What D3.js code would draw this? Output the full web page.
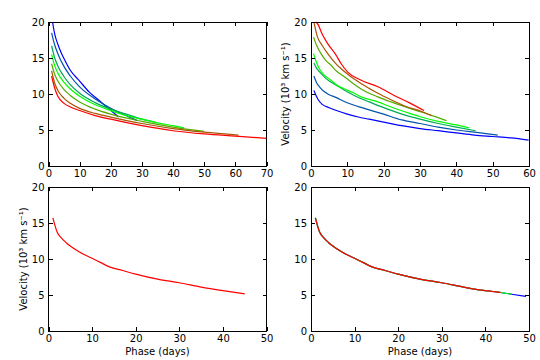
<!DOCTYPE html>
<html><head><meta charset="utf-8">
<script src="https://cdn.jsdelivr.net/npm/d3@7"></script>
<style>
body{margin:0;background:#fff;}
svg{display:block;font-family:"DejaVu Sans",sans-serif;}
</style></head>
<body><svg id="c" width="540" height="360"></svg>
<script>
// ---- data ----
const seriesColors = ["#0000ff","#0055aa","#00aa55","#00ff00","#55aa00","#aa5500","#ff0000"];

// top-left panel (blue -> red)
const tlPhase = [
  [1.3,2,3,4,5,7,10,13,16,19,22.5],
  [1,2,3,5,7,10,15,20,25,28.5],
  [1,2,3,5,7,10,15,20,25,30,35],
  [1,2,3,5,7,10,15,20,25,30,35,40,43.5],
  [1,2,3,5,7,10,15,20,30,40,50],
  [1,2,3,5,7,10,15,20,30,40,50,61],
  [1,2,3,5,7,10,15,20,30,40,50,60,70]
];
const tlVel = [
  [20,18.3,16.9,15.8,14.9,13.3,11.8,10.3,9.2,8.1,6.8],
  [18.5,16.8,15.6,13.8,12.5,11.0,9.3,8.0,7.0,6.3],
  [16.7,15.0,13.9,12.4,11.3,10.1,8.8,7.9,7.2,6.5,6.0],
  [15.5,13.9,12.9,11.6,10.7,9.7,8.5,7.7,7.0,6.5,6.0,5.6,5.3],
  [14.2,12.7,11.8,10.6,9.8,8.9,7.9,7.2,6.2,5.4,4.8],
  [13.2,11.5,10.5,9.4,8.7,8.0,7.3,6.8,5.9,5.2,4.7,4.3],
  [12.5,10.8,9.7,8.7,8.2,7.7,7.0,6.5,5.6,4.9,4.45,4.15,3.85]
];

// top-right panel (blue -> red)
const trPhase = [
  [0.8,1.2,2,3,5,7,10,13,16,20,25,30,35,40,45,50,55,59.9],
  [0.8,1.5,2.5,4,5,7,9,11.5,14,16,20,25,30,35,40,45,51.4],
  [0.8,1.5,2.5,4,5,7,9,11.5,14,16,20,25,30,35,40,45.3],
  [0.7,1.5,2.3,3.5,5.5,7,9.2,11.5,13.8,18.4,22,26,30.3,35,40,43.5],
  [0.7,1.5,2.75,4,5.5,7,9.2,11.5,13.8,18.4,22,26,30.3,34,37.3],
  [0.8,1.8,3,4.6,6.5,8.3,11,14,18.4,22,26,30.3,33.2],
  [1.4,2,3,4.6,6.9,8.3,10.1,13.8,18.4,22.9,27,31.1]
];
const trVel = [
  [10.5,10.0,9.2,8.6,8.1,7.7,7.2,6.8,6.5,6.1,5.6,5.2,4.9,4.6,4.3,4.1,3.9,3.6],
  [12.5,11.6,10.9,10.2,9.9,9.5,9.0,8.5,8.1,7.8,7.2,6.4,5.9,5.4,5.0,4.7,4.3],
  [14.3,13.6,13.0,12.2,11.8,11.2,10.6,9.9,9.3,8.9,8.1,7.2,6.5,5.9,5.4,4.9],
  [15.6,14.4,13.5,12.7,11.9,11.3,10.7,10.2,9.6,8.9,8.2,7.5,6.8,6.2,5.7,5.3],
  [17.9,16.8,15.6,14.7,14.0,13.2,12.4,11.5,10.7,9.6,8.9,8.2,7.5,6.9,6.3],
  [20,17.9,16.8,15.6,14.4,13.5,12.4,11.4,10.1,9.2,8.3,7.6,7.0],
  [20,19.6,18.4,17.0,15.4,14.2,13.05,11.9,11.0,9.8,8.8,7.7]
];

// bottom-left panel
const blPhase = [1,2,3,4,5,7,10,12,14,17,20,25,30,35,40,45];
const blVel   = [15.7,13.7,12.9,12.3,11.8,11.0,10.1,9.5,8.9,8.4,7.9,7.2,6.7,6.1,5.6,5.15];

// bottom-right panel: blue, green, red overlapping
const brPhase = [
  [1,2,3,4,5,7,10,12,14,17,20,25,30,35,40,43.5,46,49.3],
  [1,2,3,4,5,7,10,12,14,17,20,25,30,35,40,43.5,46],
  [1,2,3,4,5,7,10,12,14,17,20,25,30,35,40,43.5]
];
const brVel = [
  [15.7,13.7,12.9,12.3,11.8,11.0,10.1,9.5,8.9,8.4,7.9,7.2,6.7,6.1,5.6,5.35,5.1,4.8],
  [15.7,13.7,12.9,12.3,11.8,11.0,10.1,9.5,8.9,8.4,7.9,7.2,6.7,6.1,5.6,5.35,5.1],
  [15.7,13.7,12.9,12.3,11.8,11.0,10.1,9.5,8.9,8.4,7.9,7.2,6.7,6.1,5.6,5.35]
];
const brColors = ["#0000ff","#00ff00","#ff0000"];

const yTicks = [0,5,10,15,20];
const xTicksTL = [0,10,20,30,40,50,60,70];
const xTicksTR = [0,10,20,30,40,50,60];
const xTicksB  = [0,10,20,30,40,50];

const yLabel = "Velocity (10³ km s⁻¹)";
const xLabel = "Phase (days)";

// ---- drawing ----
const svg = d3.select("#c");
const panels = [
  {x0:48.5, y0:22,  xmax:70, xt:xTicksTL, phases:tlPhase, vels:tlVel, cols:seriesColors, ylab:false, xlab:false},
  {x0:311,  y0:22,  xmax:60, xt:xTicksTR, phases:trPhase, vels:trVel, cols:seriesColors, ylab:true, xlab:false},
  {x0:48.5, y0:187, xmax:50, xt:xTicksB, phases:[blPhase], vels:[blVel], cols:["#ff0000"], ylab:true, xlab:true},
  {x0:311,  y0:187, xmax:50, xt:xTicksB, phases:brPhase, vels:brVel, cols:brColors, ylab:false, xlab:true}
];
const W = 218, H = 144;

panels.forEach(p => {
  const g = svg.append("g").attr("transform", `translate(${p.x0},${p.y0})`);
  const x = d3.scaleLinear().domain([0,p.xmax]).range([0,W]);
  const y = d3.scaleLinear().domain([0,20]).range([H,0]);

  const line = d3.line().x(d=>x(d[0])).y(d=>y(d[1])).curve(d3.curveMonotoneX);
  p.phases.forEach((ph,i) => {
    const pts = ph.map((t,j)=>[t,p.vels[i][j]]);
    g.append("path").attr("d", line(pts)).attr("fill","none")
      .attr("stroke", p.cols[i]).attr("stroke-width",1.2).attr("stroke-linejoin","round");
  });

  const fmt = d3.format("d");
  const axB = g.append("g").attr("transform",`translate(0,${H})`)
    .call(d3.axisBottom(x).tickValues(p.xt).tickSize(-4).tickPadding(4).tickFormat(fmt));
  const axT = g.append("g")
    .call(d3.axisTop(x).tickValues(p.xt).tickSize(-4).tickFormat(""));
  const axL = g.append("g")
    .call(d3.axisLeft(y).tickValues(yTicks).tickSize(-4).tickPadding(4).tickFormat(fmt));
  const axR = g.append("g").attr("transform",`translate(${W},0)`)
    .call(d3.axisRight(y).tickValues(yTicks).tickSize(-4).tickFormat(""));
  [axB,axT,axL,axR].forEach(a=>{
    a.select(".domain").remove();
    a.selectAll("line").attr("stroke","#000").attr("shape-rendering","crispEdges");
    a.selectAll("text").attr("fill","#000").style("font-size","10px").style("font-family","DejaVu Sans");
  });
  g.append("rect").attr("x",0).attr("y",0).attr("width",W).attr("height",H)
    .attr("fill","none").attr("stroke","#000").attr("stroke-width",1).attr("shape-rendering","crispEdges");

  if (p.ylab) {
    g.append("text").attr("transform",`translate(-22,${H/2}) rotate(-90)`)
      .attr("text-anchor","middle").style("font-size","10px").text(yLabel);
  }
  if (p.xlab) {
    g.append("text").attr("x",W/2).attr("y",H+23.5)
      .attr("text-anchor","middle").style("font-size","10px").text(xLabel);
  }
});
</script></body></html>
